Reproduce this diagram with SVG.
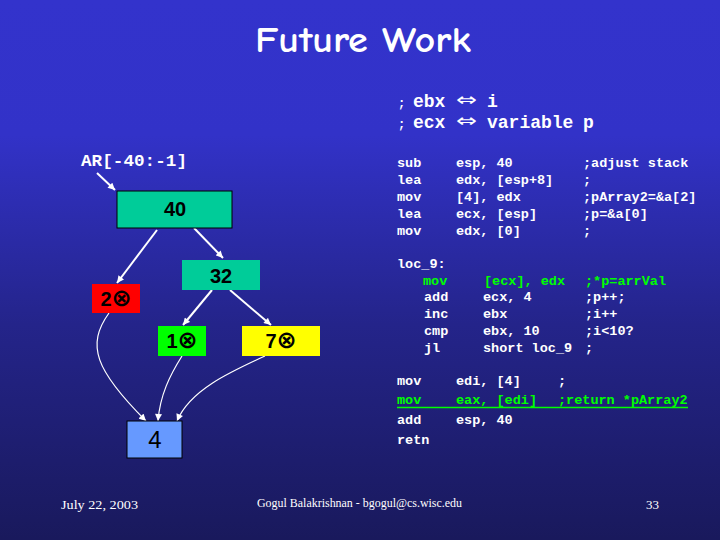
<svg xmlns="http://www.w3.org/2000/svg" width="720" height="540" viewBox="0 0 720 540">
<defs>
<linearGradient id="bg" x1="0" y1="0" x2="0" y2="1">
<stop offset="0" stop-color="#3333cc"/>
<stop offset="0.25" stop-color="#3232c8"/>
<stop offset="0.6" stop-color="#24248a"/>
<stop offset="1" stop-color="#19195c"/>
</linearGradient>
<marker id="ah" viewBox="0 0 10 10" refX="10" refY="5" markerWidth="8" markerHeight="7" markerUnits="userSpaceOnUse" orient="auto">
<path d="M0,0 L10,5 L0,10 z" fill="#ffffff"/>
</marker>
<style>
.code{font-family:"Liberation Mono","Courier New",monospace;font-weight:bold;font-size:13.5px;fill:#ffffff}
.g{fill:#00ff00}
.hdr{font-family:"Liberation Mono","Courier New",monospace;font-weight:bold;font-size:18px;fill:#ffffff}
.semi{font-family:"Liberation Mono","Courier New",monospace;font-weight:bold;font-size:12px;fill:#ffffff}
.arr{font-family:"DejaVu Sans",sans-serif;font-size:18px;fill:#ffffff}
.nl{font-family:"Liberation Sans","DejaVu Sans",Arial,sans-serif;font-weight:bold;font-size:20px;fill:#000000;text-anchor:middle}
.ox{font-family:"DejaVu Sans",sans-serif;font-weight:bold;font-size:24px}
.foot{font-family:"Liberation Serif","Times New Roman",serif;font-size:13px;fill:#ffffff}
.edge{fill:none;stroke:#ffffff;stroke-width:2}
.curve{fill:none;stroke:#ffffff;stroke-width:1.2}
</style>
</defs>
<rect x="0" y="0" width="720" height="540" fill="url(#bg)"/>

<text x="363" y="52" text-anchor="middle" font-family="'Comic Neue','DejaVu Sans',sans-serif" font-weight="bold" font-size="36" fill="#ffffff" textLength="216" lengthAdjust="spacingAndGlyphs">Future Work</text>

<g id="code-header">
<text class="semi" x="398" y="107">;</text>
<text class="hdr" x="413" y="107">ebx</text>
<text class="arr" x="456" y="106" textLength="21" lengthAdjust="spacingAndGlyphs">⇔</text>
<text class="hdr" x="487" y="107">i</text>
<text class="semi" x="398" y="128">;</text>
<text class="hdr" x="413" y="128">ecx</text>
<text class="arr" x="456" y="127" textLength="21" lengthAdjust="spacingAndGlyphs">⇔</text>
<text class="hdr" x="487" y="128">variable</text>
<text class="hdr" x="583" y="128">p</text>
</g>

<g id="code">
<text class="code" x="397" y="167">sub</text><text class="code" x="456" y="167">esp, 40</text><text class="code" x="583" y="167">;adjust stack</text>
<text class="code" x="397" y="184">lea</text><text class="code" x="456" y="184">edx, [esp+8]</text><text class="code" x="583" y="184">;</text>
<text class="code" x="397" y="201">mov</text><text class="code" x="456" y="201">[4], edx</text><text class="code" x="583" y="201">;pArray2=&amp;a[2]</text>
<text class="code" x="397" y="218">lea</text><text class="code" x="456" y="218">ecx, [esp]</text><text class="code" x="583" y="218">;p=&amp;a[0]</text>
<text class="code" x="397" y="235">mov</text><text class="code" x="456" y="235">edx, [0]</text><text class="code" x="583" y="235">;</text>

<text class="code" x="397" y="268">loc_9:</text>
<text class="code g" x="423" y="285">mov</text><text class="code g" x="484" y="285">[ecx], edx</text><text class="code g" x="585" y="285">;*p=arrVal</text>
<text class="code" x="424" y="301">add</text><text class="code" x="483" y="301">ecx, 4</text><text class="code" x="585" y="301">;p++;</text>
<text class="code" x="424" y="318">inc</text><text class="code" x="483" y="318">ebx</text><text class="code" x="585" y="318">;i++</text>
<text class="code" x="424" y="335">cmp</text><text class="code" x="483" y="335">ebx, 10</text><text class="code" x="585" y="335">;i&lt;10?</text>
<text class="code" x="424" y="352">jl</text><text class="code" x="483" y="352">short loc_9</text><text class="code" x="585" y="352">;</text>

<text class="code" x="397" y="385">mov</text><text class="code" x="456" y="385">edi, [4]</text><text class="code" x="558" y="385">;</text>
<text class="code g" x="397" y="404">mov</text><text class="code g" x="456" y="404">eax, [edi]</text><text class="code g" x="558" y="404">;return *pArray2</text>
<line x1="397" y1="407.5" x2="688" y2="407.5" stroke="#00ff00" stroke-width="1.5"/>
<text class="code" x="397" y="424">add</text><text class="code" x="456" y="424">esp, 40</text>
<text class="code" x="397" y="444">retn</text>
</g>

<g id="connectors">
<line class="edge" x1="97" y1="173" x2="115" y2="190" marker-end="url(#ah)"/>
<line class="edge" x1="157" y1="230" x2="117" y2="283" marker-end="url(#ah)"/>
<line class="edge" x1="194" y1="228" x2="223" y2="258" marker-end="url(#ah)"/>
<line class="edge" x1="212" y1="290" x2="183" y2="325" marker-end="url(#ah)"/>
<line class="edge" x1="230" y1="290" x2="271" y2="325" marker-end="url(#ah)"/>
<path class="curve" d="M109,313 C86,345 95,370 146,421" marker-end="url(#ah)"/>
<path class="curve" d="M182,356 C170,375 160,395 158,421" marker-end="url(#ah)"/>
<path class="curve" d="M265,356 C230,372 190,390 177,421" marker-end="url(#ah)"/>
</g>

<g id="label-ar">
<text x="81" y="166" font-family="'Liberation Mono','Courier New',monospace" font-weight="bold" font-size="16" fill="#ffffff" textLength="106" lengthAdjust="spacingAndGlyphs">AR[-40:-1]</text>
</g>

<g id="node-40">
<rect x="117" y="191" width="115" height="37" fill="#00cc99" stroke="#000000" stroke-width="1"/>
<text class="nl" x="175" y="216">40</text>
</g>
<g id="node-32">
<rect x="182" y="260" width="78" height="30" fill="#00cc99"/>
<text class="nl" x="221" y="283">32</text>
</g>
<g id="node-2">
<rect x="92" y="284" width="48" height="29" fill="#ff0000"/>
<text class="nl" x="116" y="306">2<tspan class="ox">⊗</tspan></text>
</g>
<g id="node-1">
<rect x="158" y="326" width="48" height="30" fill="#00ff00"/>
<text class="nl" x="182" y="348">1<tspan class="ox">⊗</tspan></text>
</g>
<g id="node-7">
<rect x="242" y="326" width="78" height="30" fill="#ffff00"/>
<text class="nl" x="281" y="348">7<tspan class="ox">⊗</tspan></text>
</g>
<g id="node-4">
<rect x="127" y="421" width="55" height="37" fill="#6699ff" stroke="#000000" stroke-width="1"/>
<text x="155" y="448" text-anchor="middle" font-family="'Liberation Sans',Arial,sans-serif" font-size="24" fill="#000000">4</text>
</g>

<g id="footer">
<text class="foot" x="61" y="509" textLength="77" lengthAdjust="spacingAndGlyphs">July 22, 2003</text>
<text class="foot" x="257" y="507" textLength="205" lengthAdjust="spacingAndGlyphs">Gogul Balakrishnan - bgogul@cs.wisc.edu</text>
<text class="foot" x="646" y="509">33</text>
</g>
</svg>
